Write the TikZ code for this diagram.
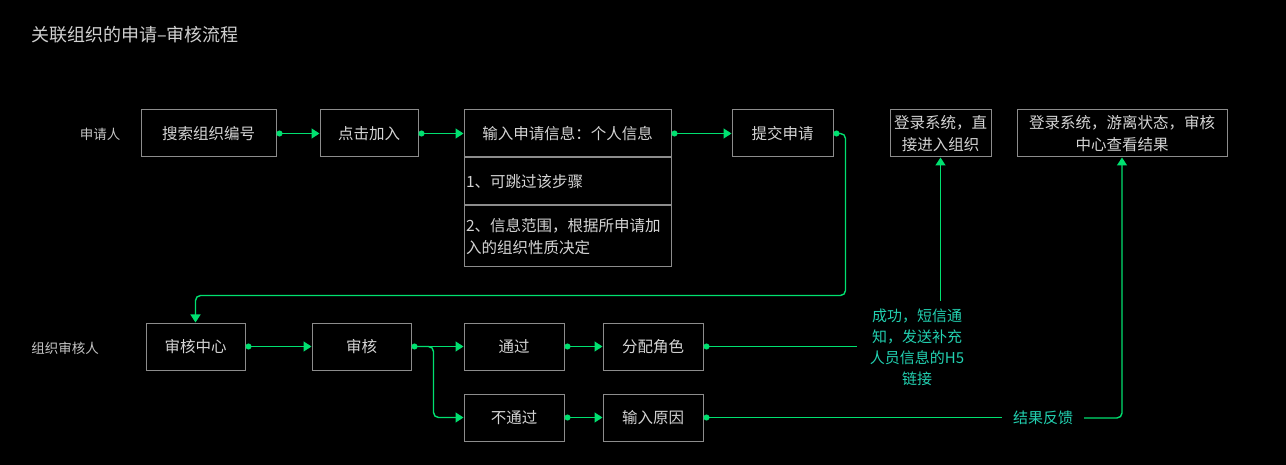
\documentclass[tikz,border=0pt]{standalone}
\usepackage{fontspec}
\setmainfont{Noto Sans CJK SC}
\usetikzlibrary{arrows.meta,positioning}
\definecolor{edgec}{HTML}{8C8C8C}
\definecolor{txtc}{HTML}{D4D4D4}
\definecolor{lanec}{HTML}{C4C4C4}
\definecolor{linec}{HTML}{00E070}
\definecolor{tagc}{HTML}{22D0B0}

\begin{document}
\begin{tikzpicture}[x=1pt,y=-1pt,
  node distance=44pt,
  box/.style={draw=edgec,line width=1pt,text=txtc,minimum height=47pt,inner sep=2pt,
              align=center,font=\fontsize{15.5}{22}\selectfont},
  note/.style={box,align=left,text width=203pt},
  lane/.style={text=lanec,font=\fontsize{13.5}{18}\selectfont},
  tag/.style={text=tagc,align=center,font=\fontsize{15}{21}\selectfont},
  flow/.style={draw=linec,line width=1.4pt,{Circle[length=6pt]}-{Triangle[length=8pt,width=10pt]}},
  rise/.style={draw=linec,line width=1.4pt,-{Triangle[length=8pt,width=10pt]}},
  tie/.style={draw=linec,line width=1.4pt,{Circle[length=6pt]}-}
]
\fill[black] (0,0) rectangle (1286,465);
\useasboundingbox (0,0) rectangle (1286,465);

\node[anchor=west,inner sep=0pt,text=txtc!110,font=\fontsize{18}{22}\selectfont] (title) at (31,35) {关联组织的申请–审核流程};

% applicant lane
\node[lane] (lblapp) at (100,134) {申请人};
\node[box,minimum width=135pt] (search) at (208.5,133.5) {搜索组织编号};
\node[box,minimum width=98pt,right=43pt of search] (click) {点击加入};
\node[box,minimum width=207pt,right=45pt of click] (input) {输入申请信息：个人信息};
\node[note,minimum height=47pt,below=0pt of input] (note1) {1、可跳过该步骤};
\node[note,minimum height=61pt,below=0pt of note1] (note2) {2、信息范围，根据所申请加\\入的组织性质决定};
\node[box,minimum width=101pt,right=60pt of input] (submit) {提交申请};
\node[box,minimum width=101pt] (login1) at (940.5,133.5) {登录系统，直\\接进入组织};
\node[box,minimum width=210pt] (login2) at (1122,133.5) {登录系统，游离状态，审核\\中心查看结果};

% reviewer lane
\node[lane] (lblrev) at (65,348) {组织审核人};
\node[box,minimum width=99pt] (center) at (195.5,346.5) {审核中心};
\node[box,minimum width=99pt,right=66pt of center] (review) {审核};
\node[box,minimum width=100pt,right=52pt of review] (pass) {通过};
\node[box,minimum width=100pt,right=38pt of pass] (role) {分配角色};
\node[box,minimum width=100pt,below=23pt of pass] (fail) {不通过};
\node[box,minimum width=100pt,below=23pt of role] (reason) {输入原因};

\node[tag,text width=96pt,inner xsep=12pt,inner ysep=8pt] (succ) at (917,347.5) {成功，短信通\\知，发送补充\\人员信息的H5\\链接};
\node[tag,inner xsep=11pt] (fb) at (1043,418) {结果反馈};

% connectors
\draw[flow] (search) -- (click);
\draw[flow] (click) -- (input);
\draw[flow] (input) -- (submit);
\draw[flow,rounded corners=5pt] (submit.east) -- ++(12,0) -- ++(0,162) -| (center.north);
\draw[flow] (center) -- (review);
\draw[flow] (review) -- (pass);
\draw[rise,rounded corners=5pt] (review.east) -- ++(22,0) |- (fail.west);
\draw[flow] (pass) -- (role);
\draw[flow] (fail) -- (reason);
\draw[tie] (role.east) -- (role.east -| succ.west);
\draw[rise] (succ.north -| login1.south) -- (login1.south);
\draw[tie] (reason.east) -- (reason.east -| fb.west);
\draw[rise,rounded corners=5pt] (fb.east) -| (login2.south);
\end{tikzpicture}
\end{document}
